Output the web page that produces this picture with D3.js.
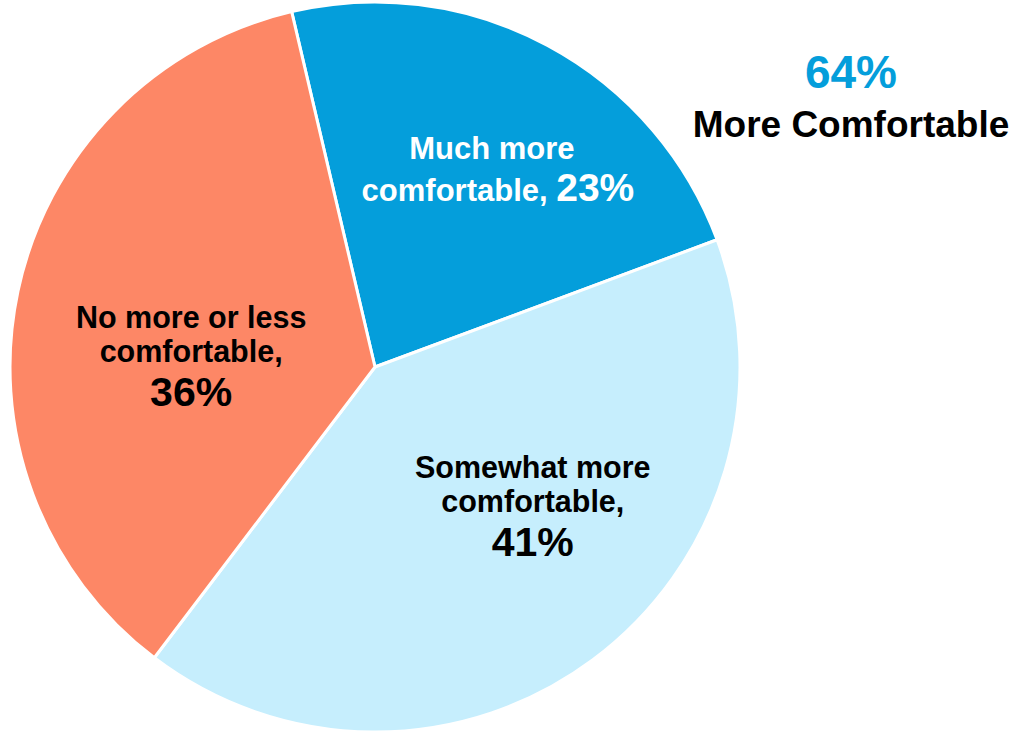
<!DOCTYPE html>
<html>
<head>
  <meta charset="utf-8">
  <style>
    body { margin: 0; background: #fff; }
    text { font-family: "Liberation Sans", Arial, Helvetica, sans-serif; font-weight: bold; }
  </style>
  <title>Comfort pie</title>
</head>
<body>
  <script src="https://cdn.jsdelivr.net/npm/d3@7"></script>
  <script>
    // data
    var categories = ["Much more comfortable", "Somewhat more comfortable", "No more or less comfortable"];
    var values = [23, 41, 36];
    var colors = ["#049edb", "#c6eefd", "#fd8766"];
    var textColors = ["#ffffff", "#000000", "#000000"];
    // label lines per slice (last line is the percentage)
    var labelLines = [
      ["Much more", "comfortable,"],
      ["Somewhat more", "comfortable,"],
      ["No more or less", "comfortable,"]
    ];
    var totalLabel = "64%";
    var totalText = "More Comfortable";

    var width = 1014, height = 734;
    var cx = 375, cy = 367, radius = 365;

    var svg = d3.select("body").append("svg")
      .attr("width", width).attr("height", height);

    var g = svg.append("g").attr("transform", "translate(" + cx + "," + cy + ")");

    var pie = d3.pie().sort(null)
      .startAngle(-13.2 * Math.PI / 180)
      .endAngle(-13.2 * Math.PI / 180 + 2 * Math.PI);
    var arc = d3.arc().innerRadius(0).outerRadius(radius);

    var arcs = pie(values);

    g.selectAll("path").data(arcs).join("path")
      .attr("d", arc)
      .attr("fill", function(d, i) { return colors[i]; })
      .attr("stroke", "#fff")
      .attr("stroke-width", 3)
      .attr("stroke-linejoin", "round");

    // label placement: angle (deg, clockwise from top) and distance from center
    var labelPos = [
      {ang: 32.7, dist: 222},
      {ang: 132.2, dist: 213},
      {ang: 272.2, dist: 184}
    ];

    arcs.forEach(function(d, i) {
      var a = labelPos[i].ang * Math.PI / 180;
      var lx = Math.sin(a) * labelPos[i].dist;
      var ly = -Math.cos(a) * labelPos[i].dist;
      var t = g.append("text")
        .attr("text-anchor", "middle")
        .attr("fill", textColors[i]);
      if (i === 0) {
        t.append("tspan").attr("x", lx - 3).attr("y", ly - 21)
          .attr("font-size", 31).text(labelLines[i][0]);
        var l2 = t.append("tspan").attr("x", lx + 3).attr("y", ly + 21);
        l2.append("tspan").attr("font-size", 31).text(labelLines[i][1] + " ");
        l2.append("tspan").attr("font-size", 39).text(values[i] + "%");
      } else {
        t.append("tspan").attr("x", lx).attr("y", ly - 32)
          .attr("font-size", 30.5).text(labelLines[i][0]);
        t.append("tspan").attr("x", lx).attr("y", ly + 2)
          .attr("font-size", 30.5).text(labelLines[i][1]);
        t.append("tspan").attr("x", lx).attr("y", ly + 46)
          .attr("font-size", 41).text(values[i] + "%");
      }
    });

    // summary on the right
    svg.append("text")
      .attr("x", 851).attr("y", 88)
      .attr("text-anchor", "middle")
      .attr("font-size", 46)
      .attr("fill", colors[0])
      .text(totalLabel);

    svg.append("text")
      .attr("x", 851).attr("y", 137)
      .attr("text-anchor", "middle")
      .attr("font-size", 37)
      .attr("fill", "#000")
      .text(totalText);
  </script>
</body>
</html>
